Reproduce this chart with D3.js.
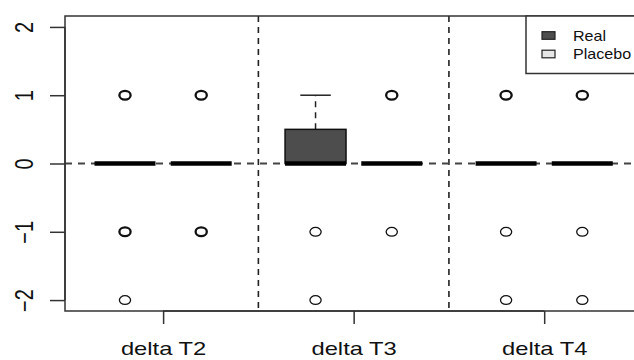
<!DOCTYPE html>
<html><head><meta charset="utf-8">
<script src="https://cdn.jsdelivr.net/npm/d3@7"></script>
<style>html,body{margin:0;padding:0;background:#fff;overflow:hidden}</style>
</head><body>
<svg id="chart" width="634" height="360"></svg>
<script>
// ---- data ----
const categories = ["delta T2", "delta T3", "delta T4"];
const seriesNames = ["Real", "Placebo"];
const seriesColors = ["#4d4d4d", "#e6e6e6"];
// boxes in order: T2 Real, T2 Placebo, T3 Real, T3 Placebo, T4 Real, T4 Placebo
const boxPositions = [1, 2, 3.5, 4.5, 6, 7];
const boxSeries = [0, 1, 0, 1, 0, 1];
const whiskerLow = [0, 0, 0, 0, 0, 0];
const q1 = [0, 0, 0, 0, 0, 0];
const medians = [0, 0, 0, 0, 0, 0];
const q3 = [0, 0, 0.5, 0, 0, 0];
const whiskerHigh = [0, 0, 1, 0, 0, 0];
const outlierValues = [[1, -1, -2], [1, -1], [-1, -2], [1, -1], [1, -1, -2], [1, -1, -2]];
const outlierCounts = [[4, 4, 1], [4, 4], [1, 1], [3, 1], [4, 1, 1], [4, 1, 1]];
const groupPositions = [1.5, 4, 6.5];
const separatorPositions = [2.75, 5.25];
const yTicks = [-2, -1, 0, 1, 2];

(function () {
// ---- layout ----
const svg = d3.select("#chart");
const pLeft = 65, pTop = 16, pBottom = 311, pRight = 700;
const SX = 1.25; // horizontal stretch of the original picture
const x = d3.scaleLinear().domain([1, 7]).range([125, 582.3]);
const y = d3.scaleLinear().domain([-2.16, 2.16]).range([pBottom, pTop]);
const halfW = x(1.4) - x(1);
const font = "'Liberation Sans', Arial, Helvetica, sans-serif";

// separators and zero line
svg.selectAll(".sep").data(separatorPositions).join("line")
  .attr("x1", d => x(d)).attr("x2", d => x(d))
  .attr("y1", pTop).attr("y2", pBottom)
  .attr("stroke", "#222").attr("stroke-width", 1.6).attr("stroke-dasharray", "6,5");
svg.append("line").attr("x1", pLeft).attr("x2", pRight)
  .attr("y1", y(0)).attr("y2", y(0))
  .attr("stroke", "#444").attr("stroke-width", 1.8).attr("stroke-dasharray", "7,6");

// boxes
const boxes = boxPositions.map((p, i) => ({p, i}));
const g = svg.append("g");
const withWh = boxes.filter(b => whiskerHigh[b.i] > q3[b.i]);
g.selectAll(".wh").data(withWh).join("line")
  .attr("x1", b => x(b.p)).attr("x2", b => x(b.p))
  .attr("y1", b => y(q3[b.i])).attr("y2", b => y(whiskerHigh[b.i]))
  .attr("stroke", "#222").attr("stroke-width", 1.5).attr("stroke-dasharray", "6,5");
g.selectAll(".cap").data(withWh).join("line")
  .attr("x1", b => x(b.p) - halfW / 2).attr("x2", b => x(b.p) + halfW / 2)
  .attr("y1", b => y(whiskerHigh[b.i])).attr("y2", b => y(whiskerHigh[b.i]))
  .attr("stroke", "#222").attr("stroke-width", 1.5);
g.selectAll(".bx").data(boxes.filter(b => q3[b.i] > q1[b.i])).join("rect")
  .attr("x", b => x(b.p) - halfW).attr("width", 2 * halfW)
  .attr("y", b => y(q3[b.i])).attr("height", b => y(q1[b.i]) - y(q3[b.i]))
  .attr("fill", b => seriesColors[boxSeries[b.i]]).attr("stroke", "#111").attr("stroke-width", 1.5);
g.selectAll(".med").data(boxes).join("line")
  .attr("x1", b => x(b.p) - halfW).attr("x2", b => x(b.p) + halfW)
  .attr("y1", b => y(medians[b.i])).attr("y2", b => y(medians[b.i]))
  .attr("stroke", "#000").attr("stroke-width", 4.5);
const outs = [];
boxes.forEach(b => outlierValues[b.i].forEach((v, k) => outs.push({p: b.p, v, c: outlierCounts[b.i][k]})));
g.selectAll(".out").data(outs).join("ellipse")
  .attr("cx", d => x(d.p)).attr("cy", d => y(d.v))
  .attr("rx", 5.6).attr("ry", 4.4)
  .attr("fill", "none").attr("stroke", "#111")
  .attr("stroke-width", d => d.c > 1 ? 2.3 : 1.3);

// frame
svg.append("path")
  .attr("d", `M${pRight},${pTop}H${pLeft}V${pBottom}H${pRight}`)
  .attr("fill", "none").attr("stroke", "#333").attr("stroke-width", 1.5);

// y axis
const ya = svg.append("g").attr("transform", `translate(${pLeft},0)`)
  .call(d3.axisLeft(y).tickValues(yTicks).tickSize(15).tickFormat(d3.format("d")));
ya.select(".domain").attr("stroke", "#333").attr("stroke-width", 1.5)
  .attr("d", `M0,${y(-2)}V${y(2)}`);
ya.selectAll(".tick line").attr("stroke", "#333").attr("stroke-width", 1.5);
ya.selectAll(".tick text")
  .attr("x", null).attr("dy", null)
  .attr("transform", `translate(-40,0) scale(${SX},1) rotate(-90)`)
  .attr("text-anchor", "middle").attr("dominant-baseline", "central")
  .attr("font-family", font).attr("font-size", 20).attr("fill", "#111");

// x axis
const xa = svg.append("g").attr("transform", `translate(0,${pBottom})`)
  .call(d3.axisBottom(x).tickValues(groupPositions).tickSize(13)
    .tickFormat((d, i) => categories[i]));
xa.select(".domain").attr("stroke", "#333").attr("stroke-width", 1.5)
  .attr("d", `M${x(groupPositions[0])},0H${x(groupPositions[2])}`);
xa.selectAll(".tick line").attr("stroke", "#333").attr("stroke-width", 1.5);
xa.selectAll(".tick text")
  .attr("y", null).attr("dy", null)
  .attr("transform", `translate(0,44) scale(${SX},1)`)
  .attr("text-anchor", "middle")
  .attr("font-family", font).attr("font-size", 19).attr("fill", "#111");

// legend
const lg = svg.append("g");
lg.append("rect").attr("x", 526).attr("y", pTop).attr("width", 200).attr("height", 57.5)
  .attr("fill", "#fff").attr("stroke", "#333").attr("stroke-width", 1.5);
const legY = [35.5, 54];
seriesNames.forEach((s, i) => {
  lg.append("rect").attr("x", 542).attr("y", legY[i] - 3.8).attr("width", 13).attr("height", 7.6)
    .attr("fill", seriesColors[i]).attr("stroke", "#222").attr("stroke-width", 1.2);
  lg.append("text").text(s)
    .attr("transform", `translate(573,${legY[i]}) scale(1.15,1)`)
    .attr("dominant-baseline", "central")
    .attr("font-family", font).attr("font-size", 14).attr("fill", "#111");
});
})();
</script>
</body></html>
